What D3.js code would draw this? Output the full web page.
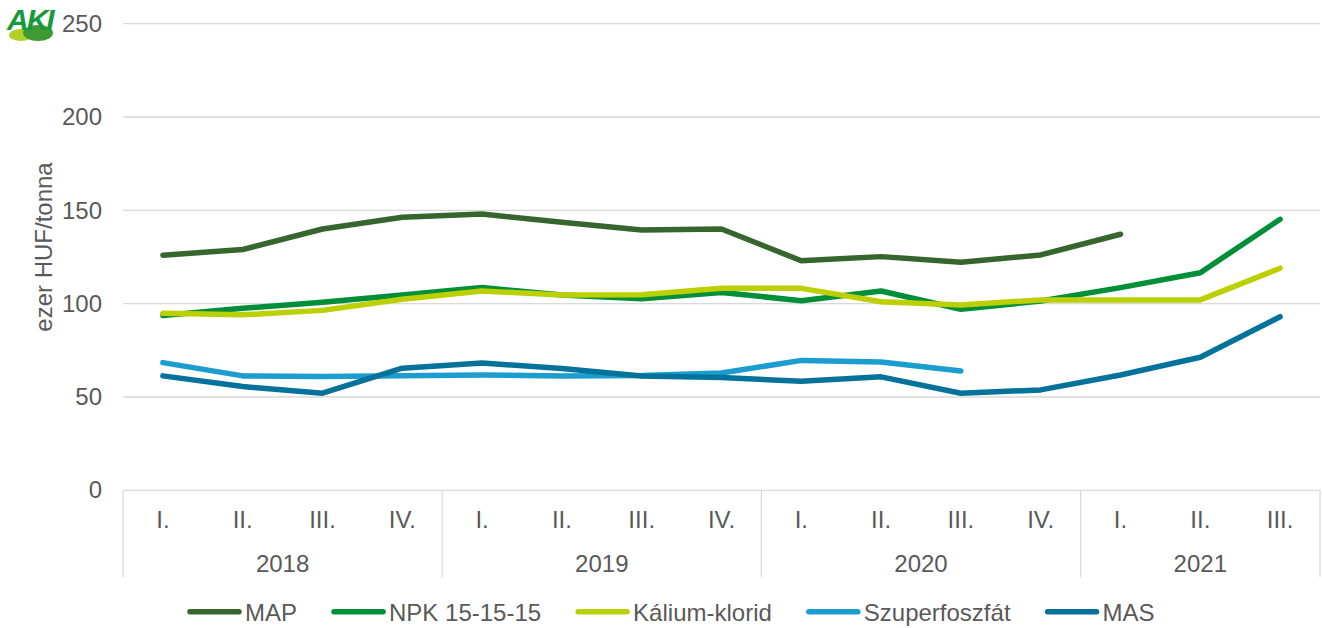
<!DOCTYPE html>
<html>
<head>
<meta charset="utf-8">
<script src="https://cdn.jsdelivr.net/npm/d3@7"></script>
<style>
  body { margin: 0; background: #fff; }
  svg { font-family: "Liberation Sans", Arial, sans-serif; }
</style>
</head>
<body>
<div id="chart"></div>
<script>
// chart values
var quarters = ["I.", "II.", "III.", "IV.", "I.", "II.", "III.", "IV.", "I.", "II.", "III.", "IV.", "I.", "II.", "III."];
var years = ["2018", "2019", "2020", "2021"];
var quartersPerYear = [4, 4, 4, 3];
var yTicks = [0, 50, 100, 150, 200, 250];

var seriesNames = ["MAP", "NPK 15-15-15", "Kálium-klorid", "Szuperfoszfát", "MAS"];
var mapValues = [126, 129, 140, 146.3, 148, 143.6, 139.5, 140, 123, 125.2, 122.2, 126.1, 137.2, null, null];
var npkValues = [93.6, 97.5, 100.7, 104.7, 108.6, 104.7, 102.6, 106, 101.6, 106.8, 97, 101.4, 108.6, 116.6, 145.2];
var kaliumValues = [94.8, 94, 96.4, 102.4, 106.8, 104.6, 104.8, 108.2, 108.2, 101, 99.3, 102, 102, 102, 119];
var szuperValues = [68.4, 61.3, 61, 61.4, 61.8, 61.3, 61.5, 62.8, 69.6, 68.7, 63.9, null, null, null, null];
var masValues = [61.3, 55.6, 52, 65.4, 68.2, 65.2, 61.3, 60.4, 58.4, 60.8, 52, 53.8, 61.8, 71.3, 93];
var seriesColors = ["#36652d", "#008f39", "#bccf00", "#1b9dcf", "#04729a"];

var allSeries = [mapValues, npkValues, kaliumValues, szuperValues, masValues];

var svgWidth = 1322;
var svgHeight = 628;
var margin = { top: 23.7, right: 2, bottom: 137.7, left: 123 };
var chartWidth = svgWidth - margin.left - margin.right;
var chartHeight = svgHeight - margin.top - margin.bottom;
var textColor = "#595959";
var gridColor = "#d9d9d9";
var fontSize = "24px";

var svg = d3.select("#chart")
  .append("svg")
  .attr("width", svgWidth)
  .attr("height", svgHeight);

// logo (rough)
var logo = svg.append("g").attr("transform", "translate(4, 4)");
logo.append("ellipse").attr("cx", 17).attr("cy", 31).attr("rx", 12).attr("ry", 6).attr("fill", "#b5cf2a");
logo.append("ellipse").attr("cx", 34).attr("cy", 29).attr("rx", 15).attr("ry", 8).attr("fill", "#3f9a34");
logo.append("text")
  .attr("x", 3).attr("y", 26)
  .style("font-size", "30px").style("font-weight", "bold").style("font-style", "italic")
  .style("letter-spacing", "-2px")
  .attr("fill", "#169a3c")
  .text("AKI");

var chartGroup = svg.append("g")
  .attr("transform", `translate(${margin.left}, ${margin.top})`);

var xScale = d3.scaleBand()
  .domain(d3.range(quarters.length))
  .range([0, chartWidth]);

var yScale = d3.scaleLinear()
  .domain([0, 250])
  .range([chartHeight, 0]);

// gridlines
chartGroup.append("g")
  .selectAll("line")
  .data(yTicks)
  .enter()
  .append("line")
  .attr("x1", 0)
  .attr("x2", chartWidth)
  .attr("y1", d => yScale(d))
  .attr("y2", d => yScale(d))
  .attr("stroke", gridColor)
  .attr("stroke-width", 1.3);

// y axis labels
var leftAxis = d3.axisLeft(yScale).tickValues(yTicks).tickSize(0).tickPadding(21);
var yAxisG = chartGroup.append("g").call(leftAxis);
yAxisG.select(".domain").remove();
yAxisG.selectAll("text")
  .style("font-size", fontSize)
  .style("font-family", "'Liberation Sans', Arial, sans-serif")
  .attr("fill", textColor);

svg.append("text")
  .attr("transform", `translate(52, 247) rotate(-90)`)
  .style("text-anchor", "middle")
  .style("font-size", fontSize)
  .attr("fill", textColor)
  .text("ezer HUF/tonna");

// two-level category axis
var bottomAxis = d3.axisBottom(xScale).tickFormat(i => quarters[i]).tickSize(0).tickPadding(0);
var xAxisG = chartGroup.append("g")
  .attr("transform", `translate(0, ${chartHeight})`)
  .call(bottomAxis);
xAxisG.select(".domain").remove();
xAxisG.selectAll("text")
  .attr("y", 37.7)
  .attr("dy", 0)
  .style("font-size", fontSize)
  .style("font-family", "'Liberation Sans', Arial, sans-serif")
  .attr("fill", textColor);

var boundaries = [0];
quartersPerYear.forEach(function(n, i) { boundaries.push(boundaries[i] + n); });

chartGroup.append("g")
  .selectAll("line")
  .data(boundaries)
  .enter()
  .append("line")
  .attr("x1", d => d < quarters.length ? xScale(d) : chartWidth)
  .attr("x2", d => d < quarters.length ? xScale(d) : chartWidth)
  .attr("y1", chartHeight)
  .attr("y2", chartHeight + 87)
  .attr("stroke", gridColor)
  .attr("stroke-width", 1.3);

chartGroup.append("g")
  .selectAll("text")
  .data(years)
  .enter()
  .append("text")
  .attr("x", function(d, i) {
    var x0 = xScale(boundaries[i]);
    var x1 = boundaries[i + 1] < quarters.length ? xScale(boundaries[i + 1]) : chartWidth;
    return (x0 + x1) / 2;
  })
  .attr("y", chartHeight + 81.7)
  .style("text-anchor", "middle")
  .style("font-size", fontSize)
  .attr("fill", textColor)
  .text(d => d);

// lines
var line = d3.line()
  .defined(d => d != null)
  .x((d, i) => xScale(i) + xScale.bandwidth() / 2)
  .y(d => yScale(d));

chartGroup.append("g")
  .selectAll("path")
  .data(allSeries)
  .enter()
  .append("path")
  .attr("d", d => line(d))
  .attr("fill", "none")
  .attr("stroke", (d, i) => seriesColors[i])
  .attr("stroke-width", 5.5)
  .attr("stroke-linejoin", "round")
  .attr("stroke-linecap", "round");

// legend
var legend = svg.append("g").attr("transform", "translate(0, 611.7)");
var lx = 187;
seriesNames.forEach(function(name, i) {
  legend.append("line")
    .attr("x1", lx + 3).attr("x2", lx + 52)
    .attr("y1", 0).attr("y2", 0)
    .attr("stroke", seriesColors[i])
    .attr("stroke-width", 5.5)
    .attr("stroke-linecap", "round");
  var t = legend.append("text")
    .attr("x", lx + 58)
    .attr("y", 9)
    .style("font-size", fontSize)
    .attr("fill", textColor)
    .text(name);
  lx += 58 + t.node().getComputedTextLength() + 34;
});
</script>
</body>
</html>
